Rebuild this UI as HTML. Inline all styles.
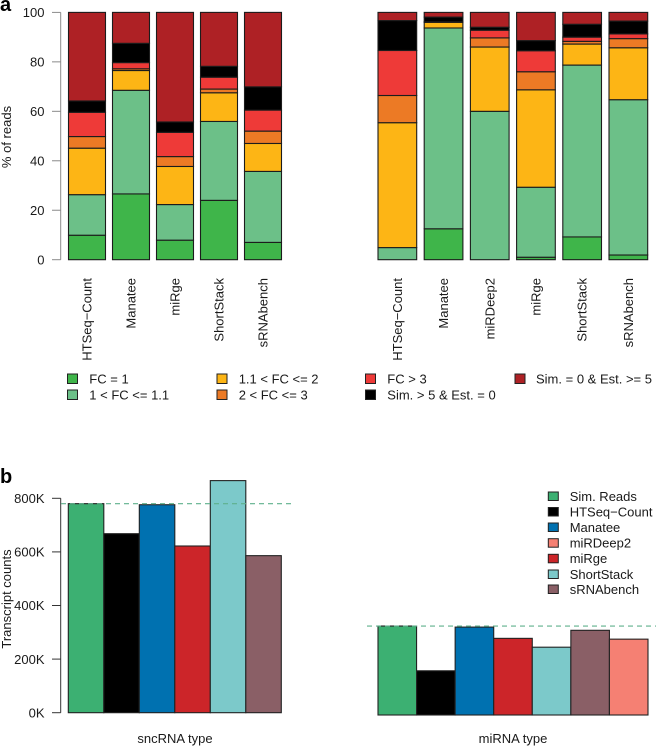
<!DOCTYPE html>
<html>
<head>
<meta charset="utf-8">
<title>Read and transcript count comparison</title>
<style>
html,body{margin:0;padding:0;background:#fff;width:656px;height:746px;overflow:hidden}
svg{display:block}
text{font-family:"Liberation Sans",sans-serif;font-size:13px;fill:#1a1a1a}
.leg{dominant-baseline:central}
.sw{stroke:#222;stroke-width:1}
</style>
</head>
<body>
<svg id="fig" width="656" height="746" viewBox="0 0 656 746" xmlns="http://www.w3.org/2000/svg">
  <text x="0" y="11" style="font-size:20px;font-weight:bold;fill:#000">a</text>
  <text x="0" y="483" style="font-size:20px;font-weight:bold;fill:#000">b</text>
  <text transform="translate(11,137) rotate(-90)" text-anchor="middle">% of reads</text>
  <text transform="translate(11,599) rotate(-90)" text-anchor="middle">Transcript counts</text>
  <text x="175" y="743" text-anchor="middle">sncRNA type</text>
  <text x="513" y="743" text-anchor="middle">miRNA type</text>

  <g>
    <rect class="sw" x="67.5" y="374" width="10" height="9.5" fill="#3fb54a"/>
    <text class="leg" x="89.3" y="379">FC = 1</text>
    <rect class="sw" x="67.5" y="390" width="10" height="9.5" fill="#6cc088"/>
    <text class="leg" x="89.3" y="395">1 &lt; FC &lt;= 1.1</text>
    <rect class="sw" x="217" y="374" width="10" height="9.5" fill="#fdb515"/>
    <text class="leg" x="238.7" y="379">1.1 &lt; FC &lt;= 2</text>
    <rect class="sw" x="217" y="390" width="10" height="9.5" fill="#ec7a25"/>
    <text class="leg" x="238.7" y="395">2 &lt; FC &lt;= 3</text>
    <rect class="sw" x="365.5" y="374" width="10" height="9.5" fill="#ee3a38"/>
    <text class="leg" x="387.3" y="379">FC &gt; 3</text>
    <rect class="sw" x="365.5" y="390" width="10" height="9.5" fill="#000"/>
    <text class="leg" x="387.3" y="395">Sim. &gt; 5 &amp; Est. = 0</text>
    <rect class="sw" x="515" y="374" width="10" height="9.5" fill="#ae2125"/>
    <text class="leg" x="536" y="379">Sim. = 0 &amp; Est. &gt;= 5</text>
  </g>

  <g>
    <rect class="sw" x="548.3" y="492" width="10" height="8.5" fill="#3cb072"/>
    <text class="leg" x="569.7" y="496.5">Sim. Reads</text>
    <rect class="sw" x="548.3" y="507.5" width="10" height="8.5" fill="#000"/>
    <text class="leg" x="569.7" y="512">HTSeq−Count</text>
    <rect class="sw" x="548.3" y="523" width="10" height="8.5" fill="#0071b0"/>
    <text class="leg" x="569.7" y="527.5">Manatee</text>
    <rect class="sw" x="548.3" y="538.7" width="10" height="8.5" fill="#f58073"/>
    <text class="leg" x="569.7" y="543">miRDeep2</text>
    <rect class="sw" x="548.3" y="554.3" width="10" height="8.5" fill="#cc2529"/>
    <text class="leg" x="569.7" y="558.7">miRge</text>
    <rect class="sw" x="548.3" y="570" width="10" height="8.5" fill="#7cc9ca"/>
    <text class="leg" x="569.7" y="574.3">ShortStack</text>
    <rect class="sw" x="548.3" y="585" width="10" height="8.5" fill="#8a5f66"/>
    <text class="leg" x="569.7" y="589.5">sRNAbench</text>
  </g>
</svg>
<script>
// Panel a: categories
const leftCategories = ["HTSeq−Count", "Manatee", "miRge", "ShortStack", "sRNAbench"];
const rightCategories = ["HTSeq−Count", "Manatee", "miRDeep2", "miRge", "ShortStack", "sRNAbench"];
const percentTicks = [0, 20, 40, 60, 80, 100];

// Panel a, left: % of reads per tool, bottom to top
const leftHtseq = [9.9, 16.4, 18.8, 4.7, 9.8, 4.6, 35.8];
const leftManatee = [26.6, 41.9, 8, 0.7, 2.5, 7.8, 12.5];
const leftMirge = [7.9, 14.4, 15.4, 4, 9.8, 4.2, 44.3];
const leftShortstack = [24, 31.9, 11.6, 1.5, 4.8, 4.4, 21.8];
const leftSrnabench = [7, 28.7, 11.3, 5, 8.5, 9.4, 30.1];

// Panel a, right: % of reads per tool, bottom to top
const rightHtseq = [0, 4.9, 50.5, 11, 18.2, 12.1, 3.3];
const rightManatee = [12.5, 81.2, 2.3, 0.1, 0.1, 1.9, 1.9];
const rightMirdeep = [0, 60, 26, 3.7, 3.1, 1.2, 6];
const rightMirge = [1, 28.3, 39.4, 7.3, 8.5, 4.1, 11.4];
const rightShortstack = [9.2, 69.5, 8.5, 1.1, 1.7, 5.2, 4.8];
const rightSrnabench = [1.9, 62.8, 21, 3.7, 1.9, 5.2, 3.5];

const segmentNames = ["fc-1", "fc-1-1", "fc-2", "fc-3", "fc-over-3", "sim-only", "est-only"];
const segmentColors = ["#3fb54a", "#6cc088", "#fdb515", "#ec7a25", "#ee3a38", "#000000", "#ae2125"];

// Panel b: transcript counts in thousands
const countTicks = [0, 200, 400, 600, 800];
const sncrnaTools = ["sim-reads", "htseq", "manatee", "mirge", "shortstack", "srnabench"];
const sncrnaCounts = [780, 668, 776, 622, 866, 586];
const sncrnaColors = ["#3cb072", "#000000", "#0071b0", "#cc2529", "#7cc9ca", "#8a5f66"];
const sncrnaReference = [780];
const mirnaTools = ["sim-reads", "htseq", "manatee", "mirge", "shortstack", "srnabench", "mirdeep2"];
const mirnaCounts = [332, 165, 328, 286, 253, 316, 283];
const mirnaColors = ["#3cb072", "#000000", "#0071b0", "#cc2529", "#7cc9ca", "#8a5f66", "#f58073"];
const mirnaReference = [332];

const NS = "http://www.w3.org/2000/svg";
const fig = document.getElementById("fig");
function make(tag, attrs, parent) {
  const el = document.createElementNS(NS, tag);
  for (const k in attrs) el.setAttribute(k, attrs[k]);
  (parent || fig).appendChild(el);
  return el;
}
// Axis functions
const yPercent = v => 259.7 - v * 2.473;
const yCountLeft = v => 712.7 - v * 0.268;
const yCountRight = v => 715 - v * 0.268;
const xLeftStack = i => 68.5 + i * 44;
const xRightStack = i => 378 + i * 46.2;
const xSncrna = i => 68.3 + i * 35.5;
const xMirna = i => 378 + i * 38.57;

function drawStacks(panel, categories, rows, xFn, width) {
  categories.forEach((cat, i) => {
    let total = 0;
    rows[i].forEach((val, s) => {
      const bottom = total;
      total += val;
      if (val <= 0) return;
      const seg = make("rect", {
        x: xFn(i), y: yPercent(total), width: width, height: yPercent(bottom) - yPercent(total),
        fill: segmentColors[s], stroke: "#1c1c1c", "stroke-width": 1.1
      });
      
      
    });
    const label = make("text", {
      transform: "translate(" + (xFn(i) + width / 2 + 4.5) + ",278) rotate(-90)", "text-anchor": "end"
    });
    label.textContent = cat;
    
    
  });
}
function drawColumns(panel, tools, counts, colors, xFn, yFn, width) {
  counts.forEach((val, i) => {
    const bar = make("rect", {
      x: xFn(i), y: yFn(val), width: width, height: yFn(0) - yFn(val),
      fill: colors[i], stroke: "#222", "stroke-width": 1.1
    });
    
    
  });
}
function drawReference(panel, value, yFn, x1, x2) {
  const line = make("line", {
    x1: x1, x2: x2, y1: yFn(value), y2: yFn(value),
    stroke: "#5fb08c", "stroke-width": 1.1, "stroke-dasharray": "5 4"
  });
  
  
}

// Percent axis
const percentAxis = make("line", { x1: 60.7, x2: 60.7, y1: yPercent(0), y2: yPercent(100), stroke: "#8a8a8a", "stroke-width": 1 });


percentTicks.forEach(t => {
  const tick = make("line", { x1: 52, x2: 60.7, y1: yPercent(t), y2: yPercent(t), stroke: "#8a8a8a", "stroke-width": 1 });
  
  
  const lab = make("text", { x: 44.5, y: yPercent(t) + 4.7, "text-anchor": "end" });
  lab.textContent = t;
  
  
});
drawStacks("reads-left", leftCategories, [leftHtseq, leftManatee, leftMirge, leftShortstack, leftSrnabench], xLeftStack, 37);
drawStacks("reads-right", rightCategories, [rightHtseq, rightManatee, rightMirdeep, rightMirge, rightShortstack, rightSrnabench], xRightStack, 38.7);

// Count axis
const countAxis = make("line", { x1: 60.7, x2: 60.7, y1: yCountLeft(0), y2: yCountLeft(800), stroke: "#333", "stroke-width": 1 });


countTicks.forEach(t => {
  const tick = make("line", { x1: 52, x2: 60.7, y1: yCountLeft(t), y2: yCountLeft(t), stroke: "#333", "stroke-width": 1 });
  
  
  const lab = make("text", { x: 44.5, y: yCountLeft(t) + 4.7, "text-anchor": "end" });
  lab.textContent = t + "K";
  
  
});
drawColumns("sncrna", sncrnaTools, sncrnaCounts, sncrnaColors, xSncrna, yCountLeft, 35.5);
drawColumns("mirna", mirnaTools, mirnaCounts, mirnaColors, xMirna, yCountRight, 38.57);
drawReference("sncrna", sncrnaReference[0], yCountLeft, 61, 291);
drawReference("mirna", mirnaReference[0], yCountRight, 367, 656);
</script>
</body>
</html>
